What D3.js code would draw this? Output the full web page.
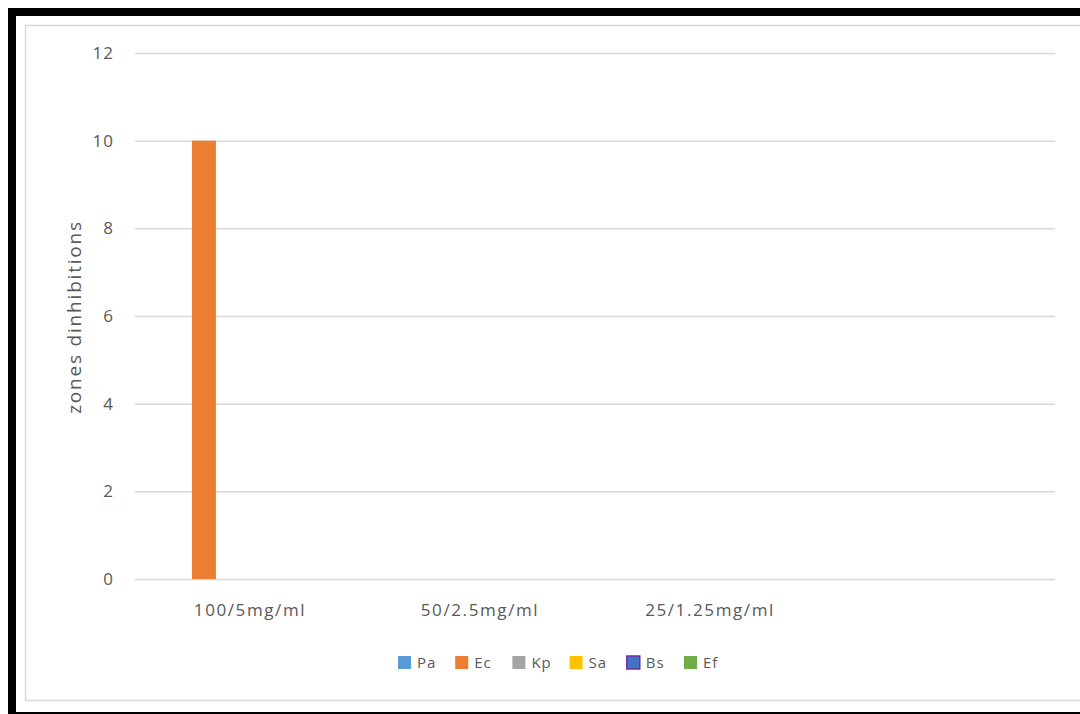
<!DOCTYPE html>
<html><head><meta charset="utf-8">
<script src="https://cdn.jsdelivr.net/npm/d3@7"></script>
<style>html,body{margin:0;padding:0;background:#fff;}svg{display:block;}</style>
</head><body>
<svg id="c" width="1080" height="714"></svg>
<script>
const categories = ["100/5mg/ml", "50/2.5mg/ml", "25/1.25mg/ml", ""];
const seriesNames = ["Pa", "Ec", "Kp", "Sa", "Bs", "Ef"];
const Pa = [0, 0, 0, 0];
const Ec = [10, 0, 0, 0];
const Kp = [0, 0, 0, 0];
const Sa = [0, 0, 0, 0];
const Bs = [0, 0, 0, 0];
const Ef = [0, 0, 0, 0];
const yTicks = [0, 2, 4, 6, 8, 10, 12];
const yTitle = "zones dinhibitions";

const seriesValues = [Pa, Ec, Kp, Sa, Bs, Ef];
const fills = ["#5B9BD5", "#ED7D31", "#A5A5A5", "#FFC000", "#4472C4", "#70AD47"];
const strokes = ["none", "none", "none", "none", "#7030A0", "none"];

const svg = d3.select("#c");
const font = "'Open Sans', sans-serif";
const txt = "#595959";

// outer black frame
svg.append("rect").attr("x", 12).attr("y", 12).attr("width", 1080).attr("height", 704)
  .attr("fill", "none").attr("stroke", "#000").attr("stroke-width", 8);
// inner chart border
svg.append("rect").attr("x", 25.5).attr("y", 25.5).attr("width", 1060).attr("height", 675)
  .attr("fill", "#fff").attr("stroke", "#d9d9d9").attr("stroke-width", 1.5);

const pL = 135, pR = 1055, pT = 53, pB = 579;
const y = d3.scaleLinear().domain([0, 12]).range([pB, pT]);
const x0 = d3.scaleBand().domain(categories.map((c, i) => i)).range([pL, pR]).padding(0);
const groupW = x0.bandwidth() * 0.772;
const x1 = d3.scaleBand().domain(seriesNames)
  .range([(x0.bandwidth() - groupW) / 2, (x0.bandwidth() + groupW) / 2])
  .paddingInner(0.22).paddingOuter(0);

// gridlines
const yAxis = d3.axisLeft(y).tickValues(yTicks).tickSize(-(pR - pL)).tickPadding(21).tickFormat(d3.format("d"));
const ga = svg.append("g").attr("transform", `translate(${pL},0)`).call(yAxis);
ga.select(".domain").remove();
ga.selectAll(".tick line").attr("stroke", "#d9d9d9").attr("stroke-width", 1.5);
ga.selectAll(".tick text").attr("fill", txt).style("font-family", font).style("font-size", "17px")
  .style("letter-spacing", "1px");

// bars
const groups = svg.append("g").selectAll("g").data(categories).join("g")
  .attr("transform", (d, i) => `translate(${x0(i)},0)`);
groups.selectAll("rect")
  .data((d, i) => seriesNames.map((s, k) => ({ s, k, v: seriesValues[k][i] })).filter(o => o.v > 0))
  .join("rect")
  .attr("x", o => x1(o.s)).attr("width", x1.bandwidth())
  .attr("y", o => y(o.v)).attr("height", o => y(0) - y(o.v))
  .attr("fill", o => fills[o.k]);

// x axis labels
const xAxis = d3.axisBottom(x0).tickSize(0).tickPadding(25).tickFormat(i => categories[i]);
const gx = svg.append("g").attr("transform", `translate(0,${pB})`).call(xAxis);
gx.select(".domain").remove();
gx.selectAll(".tick text").attr("fill", txt).style("font-family", font).style("font-size", "17px")
  .style("letter-spacing", "1.6px");

// y title
svg.append("text").attr("transform", `translate(81,${(pT + pB) / 2 + 1}) rotate(-90)`)
  .attr("text-anchor", "middle").attr("fill", txt).style("font-family", font).style("font-size", "19px")
  .style("letter-spacing", "1.8px")
  .text(yTitle);

// legend
const legX = d3.scalePoint().domain(seriesNames).range([398, 684]);
const lg = svg.append("g").selectAll("g").data(seriesNames).join("g")
  .attr("transform", d => `translate(${legX(d)},656)`);
lg.append("rect").attr("width", 13).attr("height", 13)
  .attr("fill", (d, k) => fills[k]).attr("stroke", (d, k) => strokes[k]).attr("stroke-width", 1.5);
lg.append("text").attr("x", 19).attr("y", 12).attr("fill", txt)
  .style("font-family", font).style("font-size", "15px").style("letter-spacing", "1px").text(d => d);
</script>
</body></html>
